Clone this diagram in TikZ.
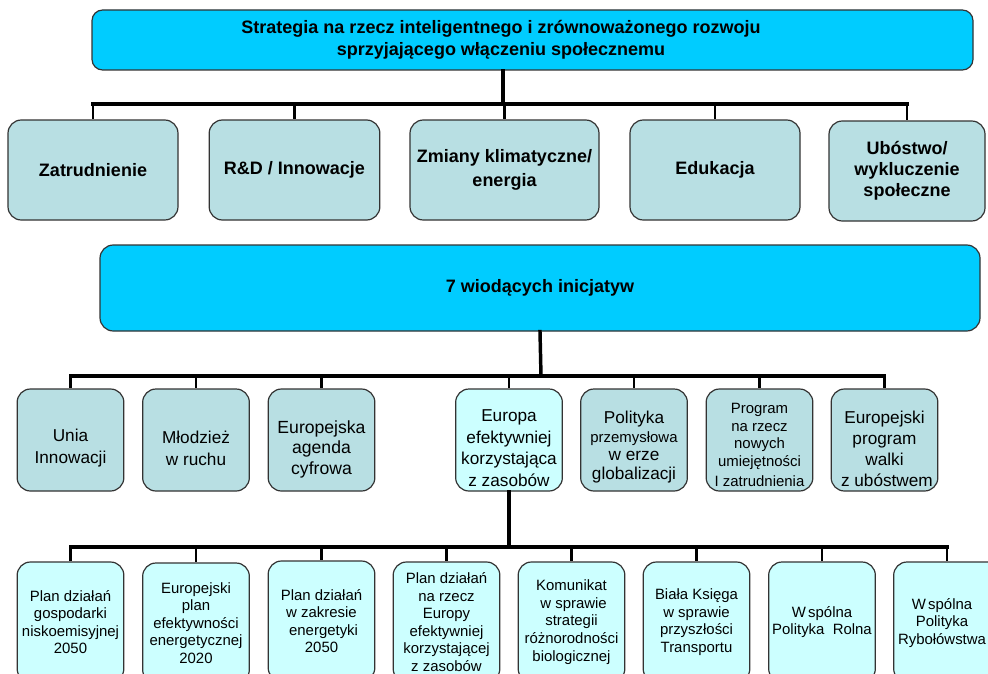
\documentclass[tikz,border=0pt]{standalone}
\usepackage{fontspec}
\setmainfont{Liberation Sans}
\begin{document}
\newcommand{\fs}[2]{\fontsize{#1}{#2}\selectfont}
\definecolor{topcyan}{HTML}{00CCFF}
\definecolor{goalfill}{HTML}{B8DFE3}
\definecolor{planfill}{HTML}{CCFFFF}
\definecolor{edge}{HTML}{333333}
\begin{tikzpicture}[x=0.75pt,y=-0.75pt,
  box/.style={draw=edge,line width=0.9pt,rounded corners=10pt,inner sep=0pt,align=center},
  headbox/.style={box,fill=topcyan,rounded corners=8pt},
  goalbox/.style={box,fill=goalfill,minimum height=75pt},
  initbox/.style={box,fill=goalfill,minimum width=80pt,minimum height=76.5pt},
  planbox/.style={box,fill=planfill,minimum width=80pt,minimum height=90pt},
  txt/.style={inner sep=0pt,align=center},
  bold/.style={txt,font=\bfseries\fs{13.5}{16.5}},
  mid/.style={txt,font=\fs{12.9}{16.5}},
  midtight/.style={txt,font=\fs{12.9}{15.6}},
  small/.style={txt,font=\fs{11.2}{13.2}},
  link/.style={line width=2.6pt,line cap=rect},
  drop/.style={line width=2.2pt}]
\clip (0,0) rectangle (988,674);
\useasboundingbox (0,0) rectangle (988,674);
\fill[white] (0,0) rectangle (988,674);

% strategy head
\node[headbox,minimum width=660.75pt,minimum height=45pt] (head) at (532.5,40) {};
\node[bold] (headtext) at (501,40)
  {Strategia na rzecz inteligentnego i zrównoważonego rozwoju\\sprzyjającego włączeniu społecznemu};

% five headline goals
\node[goalbox,minimum width=127.5pt,bold] (g1) at (93,170) {Zatrudnienie};
\node[goalbox,minimum width=128pt,bold] (g2) at (294.5,170) {R\&D / Innowacje};
\node[goalbox,minimum width=141.75pt,bold,font=\bfseries\fs{13.5}{17.5}] (g3) at (504.5,170) {Zmiany klimatyczne/\\energia};
\node[goalbox,minimum width=127.5pt,bold] (g4) at (715,170) {Edukacja};
\node[goalbox,minimum width=117pt,bold,font=\bfseries\fs{13.5}{15.6}] (g5) at (907,171) {Ubóstwo/\\wykluczenie\\społeczne};

\coordinate (busA) at (503,104);
\draw[link] (busA |- head.south) -- (busA);
\draw[link] (g1.north |- busA) -- (g5.north |- busA);
\foreach \g in {g1,g2,g3,g4,g5}
  \draw[drop] (\g.north |- busA) -- (\g.north);

% flagship initiatives
\node[headbox,minimum width=660pt,minimum height=64.5pt,bold,rounded corners=10pt] (flag) at (540,288) {7 wiodących inicjatyw};

\node[initbox] (i1) at (70.5,440) {};
\node[initbox] (i2) at (196,440) {};
\node[initbox] (i3) at (321.5,440) {};
\node[initbox,fill=planfill] (i4) at (509,440) {};
\node[initbox] (i5) at (634,440) {};
\node[initbox] (i6) at (759.5,440) {};
\node[initbox] (i7) at (884.5,440) {};

\node[mid] (i1t) at (70.5,448) {Unia\\Innowacji};
\node[mid] (i2t) at (196,448) {Młodzież\\w ruchu};
\node[midtight,font=\fs{13.2}{15.4}] (i3t) at (321.5,449) {Europejska\\agenda\\cyfrowa};
\node[midtight,font=\fs{12.9}{16.1}] (i4t) at (509,448) {Europa\\efektywniej\\korzystająca\\z zasobów};
\node[midtight,font=\fs{12.9}{13.9}] (i5t) at (634,447) {Polityka\\{\fs{11.2}{13.9}przemysłowa}\\w erze\\globalizacji};
\node[small] (i6t) at (759.5,445) {Program\\na rzecz\\nowych\\umiejętności\\[2pt]I zatrudnienia};
\node[midtight] (i7t) at (884.5,449) {Europejski\\program\\walki\\\ z ubóstwem};

\coordinate (busB) at (541,376);
\draw[link] (flag.south) -- (busB);
\draw[link] (i1.north |- busB) -- (i7.north |- busB);
\foreach \i in {i1,i2,i3,i4,i5,i6,i7}
  \draw[drop] (\i.north |- busB) -- (\i.north);

% measures under the resource-efficiency flagship
\node[planbox,small] (p1) at (70.5,622) {Plan działań\\gospodarki\\niskoemisyjnej\\2050};
\node[planbox,small] (p2) at (196,623) {Europejski\\plan\\efektywności\\energetycznej\\2020};
\node[planbox,small] (p3) at (321.5,621) {Plan działań\\w zakresie\\\ energetyki\\2050};
\node[planbox,small] (p4) at (446.5,622) {Plan działań\\na rzecz\\Europy\\efektywniej\\korzystającej\\z zasobów};
\node[planbox,small] (p5) at (571.5,622) {Komunikat\\\ w sprawie\\strategii\\różnorodności\\biologicznej};
\node[planbox,small] (p6) at (696.5,622) {Biała Księga\\w sprawie\\przyszłości\\Transportu};
\node[planbox,small] (p7) at (822,622) {W\hspace{0.15em}spólna\\Polityka\ \ Rolna};
\node[planbox] (p8) at (947,622) {};
\node[small] (p8t) at (942,623) {W\hspace{0.15em}spólna\\Polityka\\Rybołówstwa};

\coordinate (busC) at (509,547);
\draw[link] (i4.south) -- (busC);
\draw[link] (p1.north |- busC) -- (p8.north |- busC);
\foreach \p in {p1,p2,p3,p4,p5,p6,p7,p8}
  \draw[drop] (\p.north |- busC) -- (\p.north);
\end{tikzpicture}
\end{document}
